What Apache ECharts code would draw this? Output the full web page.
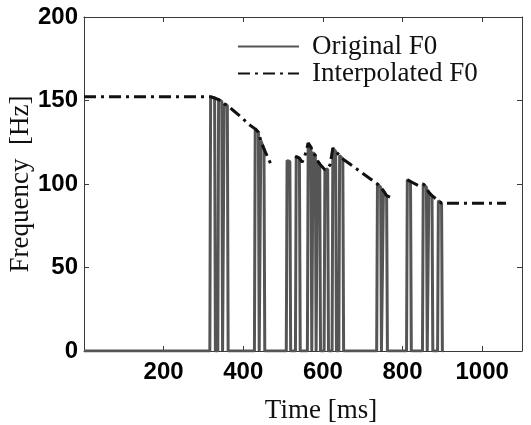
<!DOCTYPE html>
<html>
<head>
<meta charset="utf-8">
<script src="https://cdn.jsdelivr.net/npm/echarts@6/dist/echarts.min.js"></script>
<style>html,body{margin:0;padding:0;background:#fff;}#c{width:531px;height:425px;}</style>
</head>
<body>
<div id="c"></div>
<script>
// Original F0 (Hz) over time (ms): unvoiced frames are 0
var origTime = [0, 316, 318, 328, 330, 336, 338, 346, 348, 350, 352, 360, 362,
  428, 430, 438, 440, 442, 444, 452, 454,
  508, 510, 517, 519, 531, 533, 541, 543, 561, 563, 570, 572, 573, 575, 581, 583, 584, 586, 592, 594,
  603, 605, 612, 614, 623, 625, 632, 634, 640, 642, 650, 652,
  735, 737, 745, 747, 750, 752, 760, 762,
  810, 812, 820, 822, 850, 852, 860, 862, 864, 866, 874, 876, 888, 890, 898, 900, 902];
var origFreq = [0, 0, 152, 151.5, 0, 0, 150.5, 149.5, 0, 0, 148, 147, 0,
  0, 133, 131, 0, 0, 126, 121, 0,
  0, 114, 113.5, 0, 0, 116.5, 115.5, 0, 0, 124.5, 122, 0, 0, 119, 117, 0, 0, 114, 112, 0,
  0, 108.5, 109, 0, 0, 121.5, 119.5, 0, 0, 117, 115, 0,
  0, 100, 98, 0, 0, 96, 93, 0,
  0, 102.5, 101.5, 0, 0, 100, 98, 0, 0, 95, 93, 0, 0, 90, 88.5, 0, 0];

// Interpolated F0 (null = break in the drawn line)
var interpTime = [0, 318, 328, 338, 346, 352, 360, 375, 395, 415, 430, 438, 444, 452, 470, null,
  530, 541, 548, 556, 563, 570, 575, 581, 586, 592, 605, 612, 618, 625, 632, 642, 650, 737, 745, 752, 760, 770, null,
  812, 820, 840, 852, 860, 866, 874, 890, 898, 1060];
var interpFreq = [152.3, 152.3, 151.5, 150.5, 149.5, 148, 147, 144, 140, 135.5, 133, 131, 126, 121, 111.5, null,
  116.5, 115.5, 113, 118, 124.5, 122, 119, 117, 114, 112, 108.5, 109.5, 111.5, 121.5, 119.5, 117, 115, 100, 98, 96, 93, 92, null,
  102.5, 101.5, 99, 100, 98, 95, 93, 90, 88.5, 88.5];

var xTicks = [200, 400, 600, 800, 1000];
var yTicks = [0, 50, 100, 150, 200];

function pairs(t, f) {
  var out = [];
  for (var i = 0; i < t.length; i++) {
    out.push(t[i] === null ? [null, null] : [t[i], f[i]]);
  }
  return out;
}

var sans = 'Liberation Sans';
var serif = 'Liberation Serif';
var frame = '#3a3a3a';

var chart = echarts.init(document.getElementById('c'), null, {renderer: 'canvas'});
chart.setOption({
  animation: false,
  backgroundColor: '#fff',
  grid: {left: 84, top: 17, right: 9, bottom: 74, outerBoundsMode: 'none', containLabel: false},
  legend: {
    orient: 'vertical',
    left: 232, top: 28,
    itemWidth: 61, itemHeight: 12, itemGap: 0,
    itemStyle: {opacity: 0},
    textStyle: {fontFamily: serif, fontSize: 27, color: '#111', lineHeight: 26, padding: [0, 0, 0, 8]},
    data: ['Original F0', 'Interpolated F0']
  },
  xAxis: [{
    type: 'value', min: 0, max: 1100, interval: 200,
    name: 'Time [ms]', nameLocation: 'middle', nameGap: 46,
    nameTextStyle: {fontFamily: serif, fontSize: 27, color: '#111', padding: [0, 0, 0, 36]},
    axisLine: {onZero: false, lineStyle: {color: frame, width: 1}},
    axisTick: {inside: true, length: 5, lineStyle: {color: frame}},
    axisLabel: {
      fontFamily: sans, fontSize: 24, fontWeight: 'bold', color: '#000', margin: 9,
      showMaxLabel: false, showMinLabel: false,
      formatter: function (v) { return xTicks.indexOf(v) >= 0 ? String(v) : ''; }
    },
    splitLine: {show: false}
  }, {
    type: 'value', position: 'top', min: 0, max: 1100, interval: 200,
    axisLine: {show: true, onZero: false, lineStyle: {color: frame, width: 1}},
    axisTick: {inside: true, length: 5, lineStyle: {color: frame}},
    axisLabel: {show: false}, splitLine: {show: false}
  }],
  yAxis: [{
    type: 'value', min: 0, max: 200, interval: 50,
    name: 'Frequency  [Hz]', nameLocation: 'middle', nameGap: 50, nameMoveOverlap: false,
    nameTextStyle: {fontFamily: serif, fontSize: 27, color: '#111'},
    axisLine: {show: true, onZero: false, lineStyle: {color: frame, width: 1}},
    axisTick: {show: true, inside: true, length: 5, lineStyle: {color: frame}},
    axisLabel: {
      fontFamily: sans, fontSize: 24, fontWeight: 'bold', color: '#000', margin: 6,
      formatter: function (v) { return yTicks.indexOf(v) >= 0 ? String(v) : ''; }
    },
    splitLine: {show: false}
  }, {
    type: 'value', position: 'right', min: 0, max: 200, interval: 50,
    axisLine: {show: true, onZero: false, lineStyle: {color: frame, width: 1}},
    axisTick: {show: true, inside: true, length: 5, lineStyle: {color: frame}},
    axisLabel: {show: false}, splitLine: {show: false}
  }],
  series: [{
    name: 'Original F0', type: 'line', symbol: 'none', connectNulls: false,
    data: pairs(origTime, origFreq),
    lineStyle: {color: '#555', width: 3},
    itemStyle: {color: '#555'},
    z: 2
  }, {
    name: 'Interpolated F0', type: 'line', symbol: 'none', connectNulls: false,
    data: pairs(interpTime, interpFreq),
    lineStyle: {color: '#111', width: 3, type: [12, 5, 3, 5]},
    itemStyle: {color: '#111'},
    z: 3
  }]
});
</script>
</body>
</html>
